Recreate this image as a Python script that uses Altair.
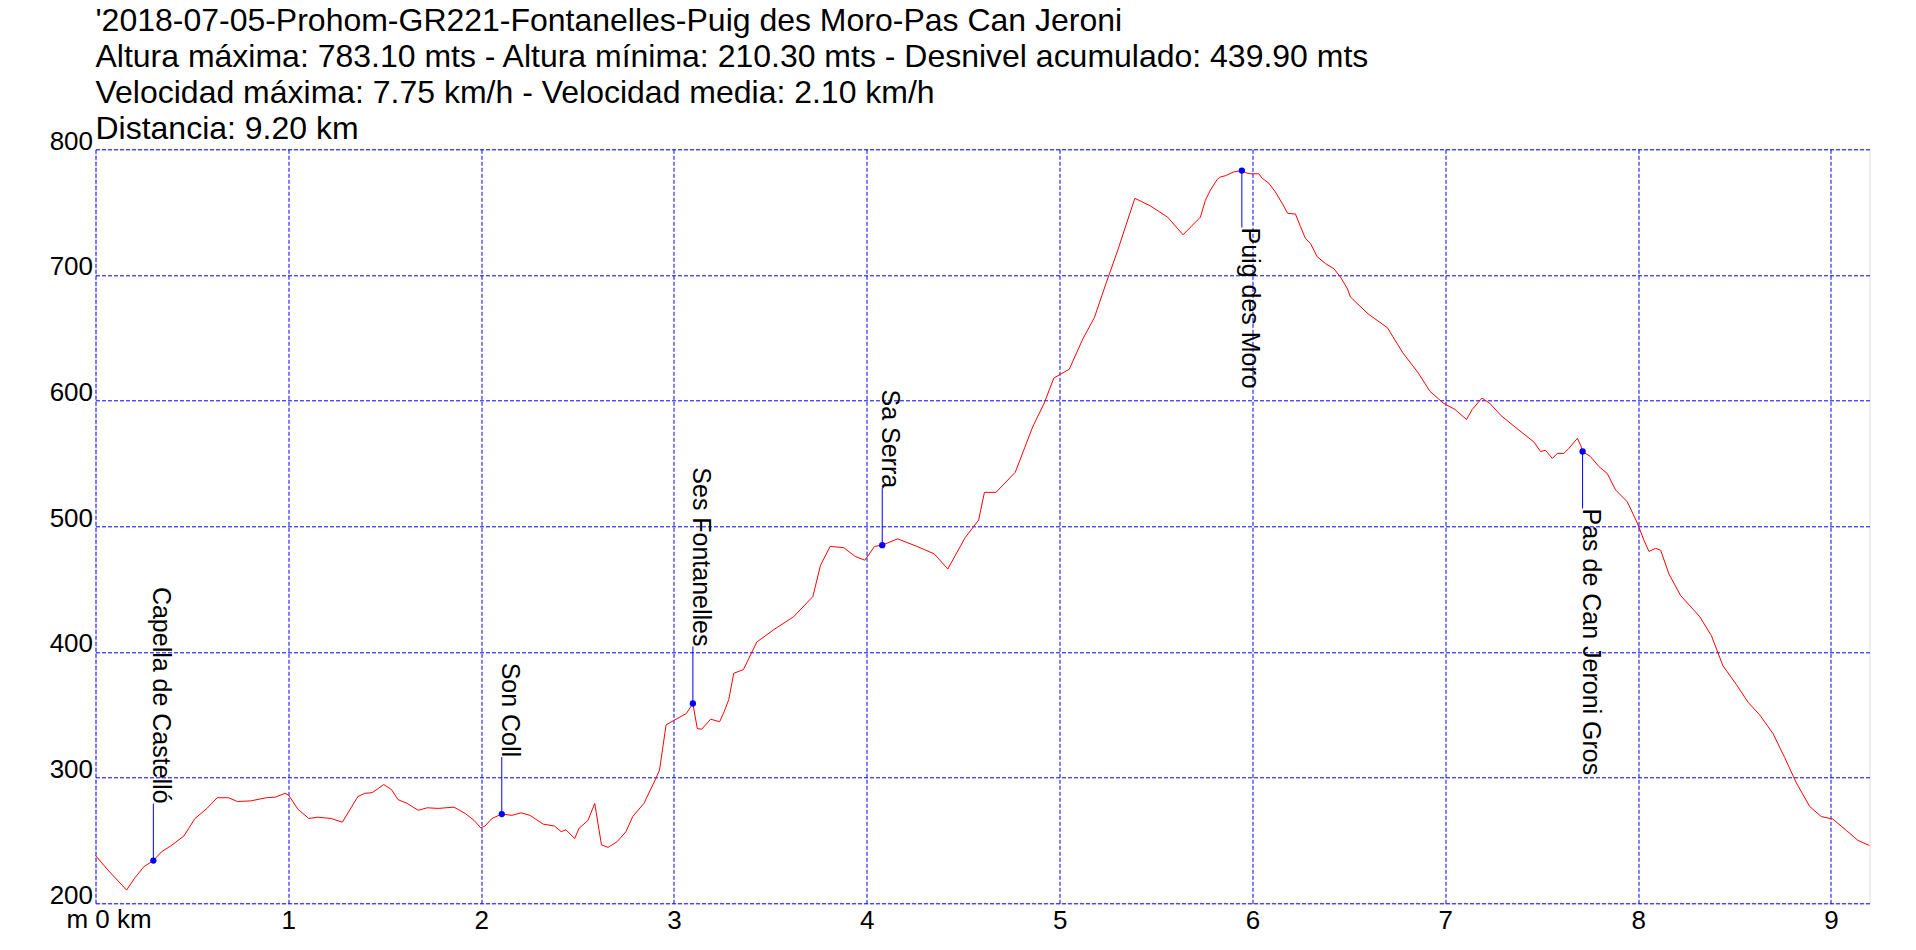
import altair as alt
import pandas as pd

# ---- data ----
km = [0.0, 0.064, 0.122, 0.161, 0.203, 0.25, 0.30, 0.342, 0.389, 0.458, 0.516, 0.578, 0.631, 0.69,
      0.736, 0.805, 0.886, 0.933, 0.983, 1.002, 1.049, 1.106, 1.153, 1.222, 1.28, 1.361, 1.396, 1.435,
      1.495, 1.535, 1.569, 1.616, 1.674, 1.72, 1.778, 1.859, 1.917, 1.963, 1.998, 2.02, 2.056, 2.107,
      2.16, 2.207, 2.253, 2.322, 2.38, 2.415, 2.44, 2.485, 2.507, 2.554, 2.589, 2.624, 2.658, 2.705,
      2.751, 2.786, 2.844, 2.902, 2.925, 2.959, 3.005, 3.064, 3.098, 3.121, 3.144, 3.19, 3.237, 3.26,
      3.284, 3.31, 3.36, 3.43, 3.52, 3.62, 3.72, 3.76, 3.81, 3.88, 3.94, 3.99, 4.04, 4.08, 4.16, 4.26,
      4.35, 4.42, 4.51, 4.58, 4.61, 4.67, 4.77, 4.86, 4.92, 4.97, 5.05, 5.12, 5.18, 5.24, 5.30, 5.39,
      5.47, 5.56, 5.64, 5.73, 5.756, 5.782, 5.817, 5.834, 5.86, 5.903, 5.945, 5.972, 5.99, 6.033, 6.05,
      6.085, 6.119, 6.154, 6.183, 6.223, 6.249, 6.275, 6.301, 6.336, 6.379, 6.422, 6.456, 6.491, 6.508,
      6.60, 6.70, 6.78, 6.86, 6.92, 6.99, 7.05, 7.11, 7.14, 7.19, 7.23, 7.29, 7.37, 7.46, 7.494, 7.52,
      7.555, 7.581, 7.615, 7.641, 7.685, 7.702, 7.712, 7.753, 7.797, 7.84, 7.883, 7.944, 7.996, 8.03,
      8.056, 8.091, 8.117, 8.16, 8.22, 8.32, 8.38, 8.44, 8.51, 8.57, 8.63, 8.70, 8.76, 8.82, 8.89, 8.95,
      9.01, 9.08, 9.14, 9.2]
elev = [238, 226.5, 217, 210.5, 220, 229, 234, 241, 245.5, 253.5, 267.5, 275.5, 284, 284,
        281, 281.5, 284, 284.5, 287.5, 286, 275, 267.5, 268.5, 267.5, 264.5, 285, 287.5, 288,
        294.5, 290.5, 282.5, 279.5, 274, 276, 275.5, 276.5, 271.5, 266, 260, 261.5, 267.5, 271,
        270, 272, 270, 263, 261.5, 257, 258.5, 251.5, 259.5, 266, 279.5, 246.5, 244.5, 249,
        257, 269, 279.5, 298, 306, 342, 346, 351, 359, 339, 338.5, 346.5, 344.5, 352.5,
        362, 383, 386, 408, 418, 428, 444, 469, 484, 483, 476, 473, 484, 485, 490, 484,
        478, 466, 491, 505, 527, 527, 543, 579, 598, 618, 625, 649, 666, 693, 719, 761,
        755, 746, 732, 746, 759.5, 767.5, 776, 778, 779, 782, 783.1, 781, 780.5, 780.5, 777,
        773, 766, 757, 749, 748.5, 738.5, 729, 725, 714.5, 709, 705, 698.5, 689.5, 682.5,
        669, 658, 638, 622, 607.5, 598, 593, 585, 593, 602, 598, 588, 578, 567, 559.5, 560.5,
        554, 558, 558, 562, 570, 564.5, 559.5, 555.5, 547.5, 542, 529, 519.5, 502.5, 489,
        480, 482.5, 481, 462, 445, 428, 413, 389, 374, 360, 350, 335, 316, 296, 277, 269,
        267, 258, 250, 246]

poi_names = ["Capella de Castelló", "Son Coll", "Ses Fontanelles", "Sa Serra",
             "Puig des Moro", "Pas de Can Jeroni Gros"]
poi_km = [0.30, 2.107, 3.098, 4.08, 5.945, 7.712]
poi_elev = [234, 271, 359, 485, 783.1, 559.5]
poi_side = ["up", "up", "up", "up", "down", "down"]

title_lines = [
    "'2018-07-05-Prohom-GR221-Fontanelles-Puig des Moro-Pas Can Jeroni",
    "Altura máxima: 783.10 mts - Altura mínima: 210.30 mts - Desnivel acumulado: 439.90 mts",
    "Velocidad máxima: 7.75 km/h - Velocidad media: 2.10 km/h",
    "Distancia: 9.20 km",
]
x_ticks = [0, 1, 2, 3, 4, 5, 6, 7, 8, 9]
y_ticks = [200, 300, 400, 500, 600, 700, 800]
x_domain = [0, 9.2]
y_domain = [200, 800]
corner_label = ["m 0 km"]

# ---- styling ----
W, H = 1774, 754
BLUE = "#0000FF"
RED = "#FF0000"
FONT = "Liberation Sans"
LEAD = 57  # px between marker and its label
m_per_px = (y_domain[1] - y_domain[0]) / H

profile = pd.DataFrame({"km": km, "elev": elev})
pois = pd.DataFrame({"name": poi_names, "km": poi_km, "elev": poi_elev, "side": poi_side})
corner = pd.DataFrame({"km": [x_domain[0]], "elev": [y_domain[0]], "t": corner_label})

xs = alt.Scale(domain=x_domain, nice=False, zero=False)
ys = alt.Scale(domain=y_domain, nice=False, zero=False)

x_axis = alt.Axis(values=x_ticks, format="d", grid=True, gridColor=BLUE, gridDash=[4, 2],
                  gridWidth=1, gridOpacity=1, domain=False, ticks=False, tickSize=0,
                  labelFont=FONT, labelFontSize=26, labelColor="black",
                  labelBaseline="alphabetic", labelPadding=25, labelFlush=False,
                  labelOverlap=False,
                  labelExpr="datum.value == 0 ? '' : datum.label", title=None)
y_axis = alt.Axis(values=y_ticks, format="d", grid=True, gridColor=BLUE, gridDash=[4, 2],
                  gridWidth=1, gridOpacity=1, domain=False, ticks=False, tickSize=0,
                  labelFont=FONT, labelFontSize=26, labelColor="black",
                  labelBaseline="alphabetic", labelAlign="right", labelPadding=3,
                  labelFlush=False, labelOverlap=False, title=None)

line = alt.Chart(profile).mark_line(color=RED, strokeWidth=1).encode(
    x=alt.X("km:Q", scale=xs, axis=x_axis),
    y=alt.Y("elev:Q", scale=ys, axis=y_axis),
)

base = alt.Chart(pois).encode(x=alt.X("km:Q", scale=xs), y=alt.Y("elev:Q", scale=ys))

rules = base.transform_calculate(
    y2=f"datum.elev + (datum.side == 'up' ? 1 : -1) * {LEAD} * {m_per_px}"
).mark_rule(color=BLUE, strokeWidth=1).encode(y2="y2:Q")

dots = base.mark_circle(color=BLUE, size=40, opacity=1)

txt_up = base.transform_filter("datum.side == 'up'").mark_text(
    angle=90, align="right", baseline="alphabetic", dx=-LEAD, font=FONT, fontSize=25,
    color="black").encode(text="name:N")
txt_dn = base.transform_filter("datum.side == 'down'").mark_text(
    angle=90, align="left", baseline="alphabetic", dx=LEAD, font=FONT, fontSize=25,
    color="black").encode(text="name:N")

corner_txt = alt.Chart(corner).mark_text(
    align="left", baseline="alphabetic", dx=-29, dy=25, font=FONT, fontSize=26, color="black"
).encode(x=alt.X("km:Q", scale=xs), y=alt.Y("elev:Q", scale=ys), text="t:N")

chart = alt.layer(line, rules, dots, txt_up, txt_dn, corner_txt).properties(
    width=W, height=H,
    title=alt.TitleParams(text=title_lines, anchor="start", frame="group", font=FONT,
                          fontSize=32, fontWeight="normal", color="black", lineHeight=36,
                          offset=-18),
    autosize=alt.AutoSizeParams(type="none"),
    padding={"left": 87.5, "top": 141.3, "right": 30, "bottom": 30},
).configure_view(stroke=BLUE, strokeWidth=1.5).configure(background="white")

chart.save("out.html", embed_options={"renderer": "svg", "actions": False})
